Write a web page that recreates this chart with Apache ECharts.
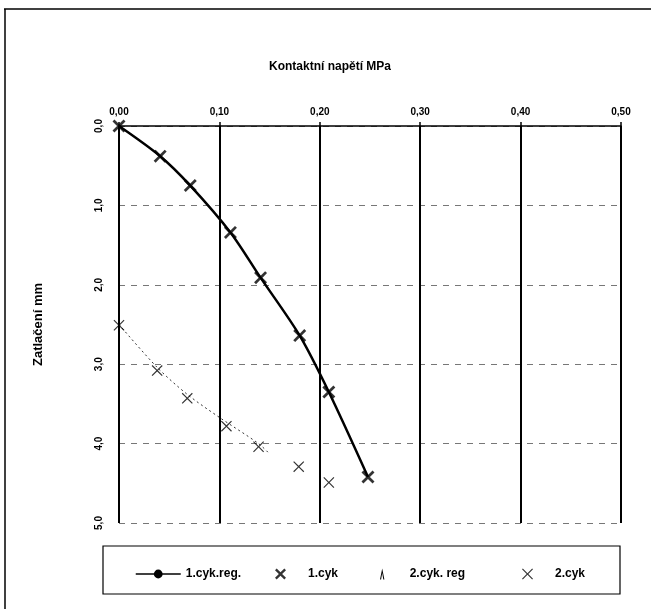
<!DOCTYPE html>
<html>
<head>
<meta charset="utf-8">
<title>Kontaktní napětí</title>
<script src="https://cdn.jsdelivr.net/npm/echarts@6/dist/echarts.min.js"></script>
<style>
  html, body { margin: 0; padding: 0; background: #fff; }
  #chart { width: 651px; height: 609px; }
</style>
</head>
<body>
<div id="chart"></div>
<script>
// tick labels
const xLabels = ['0,00', '0,10', '0,20', '0,30', '0,40', '0,50']
const yLabels = ['0,0', '1,0', '2,0', '3,0', '4,0', '5,0']

// [napětí MPa, zatlačení mm]
const cyk1Reg = [[0, 0], [0.041, 0.38], [0.071, 0.75], [0.111, 1.34], [0.141, 1.91], [0.18, 2.64], [0.209, 3.35], [0.248, 4.42]]
const cyk1 = [[0, 0], [0.041, 0.38], [0.071, 0.75], [0.111, 1.34], [0.141, 1.91], [0.18, 2.64], [0.209, 3.35], [0.248, 4.42]]
const cyk2Reg = [[0, 2.5], [0.038, 3.04], [0.068, 3.38], [0.1, 3.67], [0.139, 4.0], [0.15, 4.13]]
const cyk2 = [[0, 2.51], [0.038, 3.08], [0.068, 3.43], [0.107, 3.78], [0.139, 4.04], [0.179, 4.29], [0.209, 4.49]]

const names = ['1.cyk.reg.', '1.cyk', '2.cyk. reg', '2.cyk']

const boldX = 'path://M0,3L3,0L10,7L17,0L20,3L13,10L20,17L17,20L10,13L3,20L0,17L7,10Z'
const thinX = 'path://M0,1.5L1.5,0L10,8.5L18.5,0L20,1.5L11.5,10L20,18.5L18.5,20L10,11.5L1.5,20L0,18.5L8.5,10Z'
const tickIcon = 'path://M4,10L6,0L8,10L7,10L6,4L5,10Z'

const font = '"Liberation Sans", Arial, sans-serif'

const chart = echarts.init(document.getElementById('chart'))

const legendAt = (name, left, icon) => ({
  data: [name],
  left,
  top: 563,
  itemWidth: 45,
  itemHeight: 11,
  itemGap: 0,
  icon,
  lineStyle: { width: 1.5 },
  textStyle: {
    fontFamily: font,
    fontSize: 12,
    fontWeight: 'bold',
    color: '#000',
    padding: [15, 0, 0, 0],
  },
})

chart.setOption({
  animation: false,
  textStyle: { fontFamily: font },
  title: {
    text: 'Kontaktní napětí MPa',
    left: 264,
    top: 56,
    textStyle: {
      fontFamily: font,
      fontSize: 12,
      fontWeight: 'bold',
      color: '#000',
    },
  },
  legend: [
    legendAt(names[0], 130),
    legendAt(names[1], 270),
    legendAt(names[2], 375, tickIcon),
    legendAt(names[3], 517),
  ],
  grid: {
    left: 119,
    right: 30,
    top: 126,
    bottom: 86,
  },
  xAxis: {
    type: 'value',
    position: 'top',
    min: 0,
    max: 0.5,
    interval: 0.1,
    axisLine: { show: true, lineStyle: { color: '#000', width: 1.5 } },
    axisTick: { show: true, inside: false, length: 4, lineStyle: { color: '#000', width: 1.5 } },
    axisLabel: {
      margin: 9,
      fontFamily: font,
      fontSize: 10,
      fontWeight: 'bold',
      color: '#000',
      formatter: (v, i) => xLabels[i],
    },
    splitLine: { show: true, lineStyle: { color: '#000', width: 2 } },
  },
  yAxis: {
    type: 'value',
    inverse: true,
    min: 0,
    max: 5,
    interval: 1,
    name: 'Zatlačení mm',
    nameLocation: 'middle',
    nameGap: 74,
    nameRotate: 90,
    nameTextStyle: {
      fontFamily: font,
      fontSize: 13,
      fontWeight: 'bold',
      color: '#000',
    },
    axisLine: { show: false },
    axisTick: { show: false },
    axisLabel: {
      rotate: 90,
      margin: 15,
      fontFamily: font,
      fontSize: 10,
      fontWeight: 'bold',
      color: '#000',
      formatter: (v, i) => yLabels[i],
    },
    splitLine: { show: true, lineStyle: { color: '#777', width: 1, type: [6, 6] } },
  },
  series: [
    {
      name: names[0],
      type: 'line',
      data: cyk1Reg,
      smooth: 0.3,
      symbol: 'circle',
      symbolSize: 4,
      showSymbol: false,
      lineStyle: { color: '#000', width: 2.5 },
      itemStyle: { color: '#000' },
      z: 3,
    },
    {
      name: names[1],
      type: 'scatter',
      data: cyk1,
      symbol: boldX,
      symbolSize: 13,
      itemStyle: { color: '#000' },
      z: 4,
    },
    {
      name: names[2],
      type: 'line',
      data: cyk2Reg,
      smooth: 0.3,
      symbol: 'none',
      lineStyle: { color: '#333', width: 1, type: [2, 3] },
      itemStyle: { color: '#000' },
      z: 3,
    },
    {
      name: names[3],
      type: 'scatter',
      data: cyk2,
      symbol: thinX,
      symbolSize: 11,
      itemStyle: { color: '#000' },
      z: 4,
    },
  ],
  graphic: [
    {
      type: 'line',
      shape: { x1: 4, y1: 9, x2: 651, y2: 9 },
      style: { stroke: '#000', lineWidth: 1.5 },
    },
    {
      type: 'line',
      shape: { x1: 5, y1: 9, x2: 5, y2: 609 },
      style: { stroke: '#000', lineWidth: 1.5 },
    },
    {
      type: 'rect',
      shape: { x: 103, y: 546, width: 517, height: 48 },
      style: { fill: 'none', stroke: '#000', lineWidth: 1.2 },
    },
  ],
})
</script>
</body>
</html>
